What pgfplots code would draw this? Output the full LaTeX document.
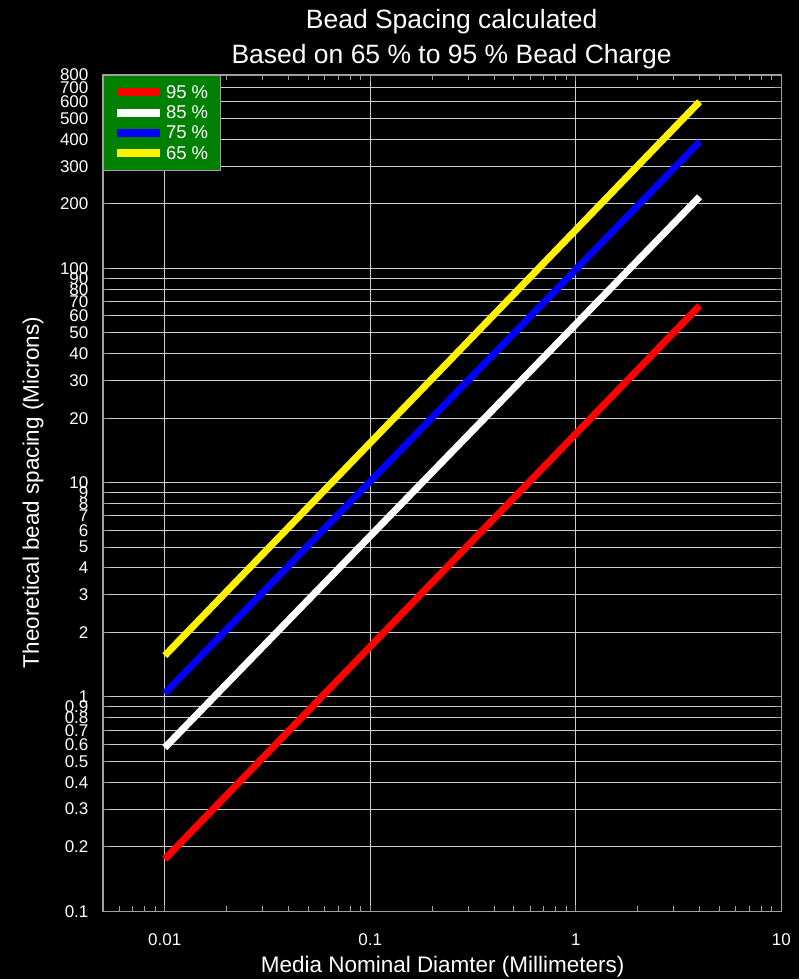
\documentclass[border=0pt]{standalone}
\usepackage{pgfplots}
\pgfplotsset{compat=1.18}
\usepackage{fontspec}
\setmainfont{Liberation Sans}
\definecolor{leggreen}{RGB}{0,128,0}
\definecolor{axgray}{RGB}{160,160,160}
\definecolor{gridc}{RGB}{205,205,205}
\begin{document}
\begin{tikzpicture}[x=1pt,y=1pt]
\fill[black] (0,0) rectangle (800,980);
\begin{axis}[
  at={(103pt,68pt)}, anchor=south west,
  scale only axis, width=679pt, height=837pt,
  xmode=log, ymode=log,
  xmin=0.005, xmax=10, ymin=0.1, ymax=800,
  axis line style={axgray, line width=1.2pt},
  xtick={0.01,0.1,1,10},
  xticklabels={0.01,0.1,1,10},
  minor xtick={0.006,0.007,0.008,0.009,0.02,0.03,0.04,0.05,0.06,0.07,0.08,0.09,0.2,0.3,0.4,0.5,0.6,0.7,0.8,0.9,2,3,4,5,6,7,8,9},
  ytick={0.1,0.2,0.3,0.4,0.5,0.6,0.7,0.8,0.9,1,2,3,4,5,6,7,8,9,10,20,30,40,50,60,70,80,90,100,200,300,400,500,600,700,800},
  yticklabels={0.1,0.2,0.3,0.4,0.5,0.6,0.7,0.8,0.9,1,2,3,4,5,6,7,8,9,10,20,30,40,50,60,70,80,90,100,200,300,400,500,600,700,800},
  xmajorgrids, ymajorgrids,
  major grid style={gridc, line width=1pt},
  tick style={axgray, line width=1pt},
  major tick length=6pt, minor tick length=5pt,
  tick align=inside,
  xticklabel style={white, font=\fontsize{17}{19}\selectfont, yshift=-19pt},
  yticklabel style={white, font=\fontsize{17}{19}\selectfont, xshift=-11pt},
  legend style={at={(0,1)}, anchor=north west, fill=leggreen, draw=axgray,
    text=white, font=\fontsize{18.5}{20}\selectfont, inner xsep=10pt, inner ysep=8pt,
    row sep=2pt},
  legend cell align=left,
  legend image code/.code={\draw[#1, line width=8pt] (0pt,0pt) -- (43pt,0pt);},
]
\addplot[red, line width=7pt] coordinates {(0.01,0.175) (4,67)};
\addlegendentry{95 \%}
\addplot[white, line width=7pt] coordinates {(0.01,0.58) (4,216)};
\addlegendentry{85 \%}
\addplot[blue, line width=7pt] coordinates {(0.01,1.04) (4,390)};
\addlegendentry{75 \%}
\addplot[yellow, line width=7pt] coordinates {(0.01,1.56) (4,600)};
\addlegendentry{65 \%}
\end{axis}
\node[white, font=\fontsize{26.5}{30}\selectfont] at (452,958) {Bead Spacing calculated};
\node[white, font=\fontsize{26.5}{30}\selectfont] at (452,923) {Based on 65 \% to 95 \% Bead Charge};
\node[white, font=\fontsize{22.5}{26}\selectfont] at (443,13) {Media Nominal Diamter (Millimeters)};
\node[white, font=\fontsize{22.5}{26}\selectfont, rotate=90] at (33,487) {Theoretical bead spacing (Microns)};
\end{tikzpicture}
\end{document}
